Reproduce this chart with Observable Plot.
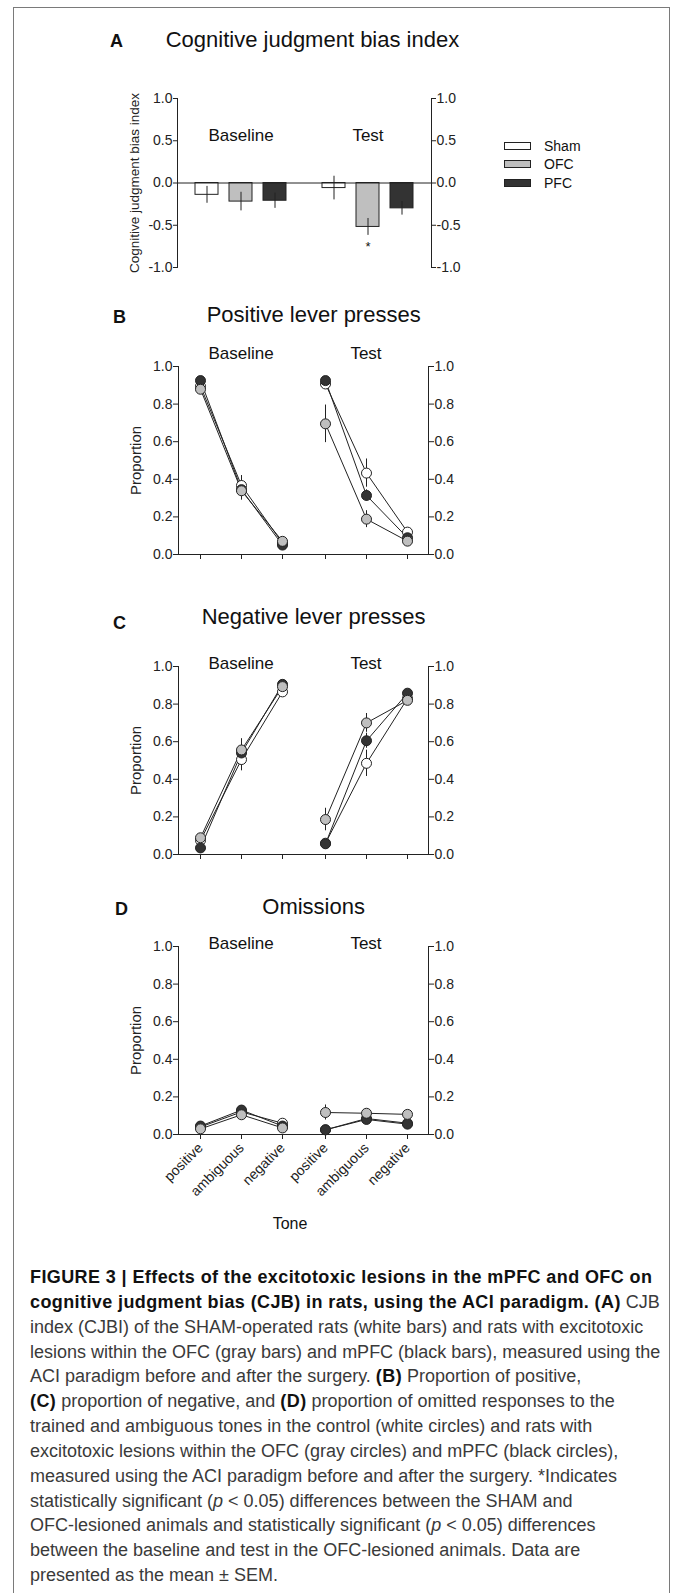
<!DOCTYPE html>
<html><head><meta charset="utf-8">
<script src="https://cdn.jsdelivr.net/npm/d3@7"></script>
<script src="https://cdn.jsdelivr.net/npm/@observablehq/plot@0.6"></script>
<style>
html,body{margin:0;padding:0;background:#fff;}
body{width:673px;height:1593px;position:relative;overflow:hidden;font-family:"Liberation Sans",Arial,Helvetica,sans-serif;color:#111;}
#frame{position:absolute;left:13px;top:7px;width:657px;height:1620px;border:1.5px solid #7a7a7a;box-sizing:border-box;}
.abs{position:absolute;white-space:nowrap;line-height:1;}
.panel{position:absolute;left:0;}
.sw{position:absolute;width:27px;height:8px;border:1px solid #222;box-sizing:border-box;}
#caption{position:absolute;left:30px;top:1265px;font-size:18px;line-height:24.85px;color:#3a3a3a;white-space:nowrap;}
#caption b{color:#111;letter-spacing:0.4px;}
</style>
</head><body>
<div id="frame"></div>
<div id="root"></div>
<div id="caption"></div>
<script>
// ---------- data ----------
const groups = ["Sham", "OFC", "PFC"];
const groupFill = ["#ffffff", "#bfbfbf", "#333333"];
const phases = ["Baseline", "Test"];
const tones = ["positive", "ambiguous", "negative"];

// Panel A: cognitive judgment bias index, rows = phases, columns = groups (Sham, OFC, PFC)
const cjbiMean = [[-0.14, -0.22, -0.21], [-0.06, -0.52, -0.30]];
const cjbiSem  = [[0.10, 0.11, 0.09], [0.14, 0.10, 0.08]];
const cjbiTicks = [-1, -0.5, 0, 0.5, 1];
const significance = [{phase: "Test", group: "OFC", label: "*"}];

// Panels B-D: rows = groups (Sham, OFC, PFC); columns = Baseline pos/amb/neg, Test pos/amb/neg
const positiveMean = [
  [0.895, 0.367, 0.060, 0.907, 0.433, 0.119],
  [0.879, 0.339, 0.070, 0.695, 0.188, 0.071],
  [0.925, 0.345, 0.050, 0.925, 0.314, 0.089]];
const positiveSem = [
  [0.02, 0.053, 0.01, 0.02, 0.075, 0.02],
  [0.02, 0.050, 0.01, 0.10, 0.045, 0.02],
  [0.02, 0.030, 0.01, 0.02, 0.030, 0.02]];
const negativeMean = [
  [0.075, 0.505, 0.865, 0.060, 0.485, 0.830],
  [0.089, 0.556, 0.893, 0.186, 0.700, 0.820],
  [0.035, 0.540, 0.905, 0.057, 0.605, 0.858]];
const negativeSem = [
  [0.02, 0.060, 0.02, 0.02, 0.070, 0.02],
  [0.02, 0.060, 0.02, 0.06, 0.050, 0.02],
  [0.01, 0.050, 0.01, 0.02, 0.040, 0.02]];
const omissionMean = [
  [0.040, 0.120, 0.060, 0.025, 0.085, 0.060],
  [0.030, 0.105, 0.035, 0.117, 0.113, 0.107],
  [0.045, 0.130, 0.045, 0.025, 0.080, 0.055]];
const omissionSem = [
  [0.01, 0.015, 0.01, 0.01, 0.015, 0.01],
  [0.01, 0.015, 0.01, 0.04, 0.015, 0.01],
  [0.01, 0.015, 0.01, 0.01, 0.015, 0.01]];
const proportionTicks = [0, 0.2, 0.4, 0.6, 0.8, 1.0];

// ---------- helpers ----------
const FONT = '"Liberation Sans", Arial, Helvetica, sans-serif';
const INK = "#222";
const fmt = d => d.toFixed(1);
const drawOrder = ["Sham", "PFC", "OFC"];
const root = document.getElementById("root");

function place(html, x, baseline, fs, extra = "") {
  const d = document.createElement("div");
  d.className = "abs";
  d.style.left = x + "px";
  d.style.top = (baseline - 0.85 * fs) + "px";
  d.style.fontSize = fs + "px";
  d.style.cssText += extra;
  d.innerHTML = html;
  root.appendChild(d);
  return d;
}
function addPlot(svg, top) {
  svg.classList.add("panel");
  svg.style.top = top + "px";
  root.appendChild(svg);
}
function tableFrom(meanArr, semArr) {
  const rows = [];
  for (const g of drawOrder) {
    const gi = groups.indexOf(g);
    phases.forEach((p, pi) => tones.forEach((t, ti) => {
      rows.push({group: g, phase: p, tone: t, mean: meanArr[gi][pi * 3 + ti], sem: semArr[gi][pi * 3 + ti]});
    }));
  }
  return rows;
}
function yAxes(ticks, label, labelSize, tickSize) {
  return [
    Plot.frame({anchor: "left", facet: "super", stroke: INK}),
    Plot.frame({anchor: "right", facet: "super", stroke: INK}),
    Plot.axisY({anchor: "left", ticks, tickFormat: fmt, tickSize, tickPadding: 1, fontSize: 14, label: null}),
    Plot.axisY({anchor: "right", ticks, tickFormat: fmt, tickSize, tickPadding: 1, fontSize: 14, label: null}),
    Plot.axisY({anchor: "left", ticks: [], tickSize: 0, label, labelAnchor: "center", labelArrow: "none", labelOffset: 48, fontSize: labelSize})
  ];
}

// ---------- Panel A ----------
place("A", 110, 47.3, 18, "font-weight:bold;");
place("Cognitive judgment bias index", 165.7, 47.3, 22);
const rowsA = [];
phases.forEach((p, pi) => groups.forEach((g, gi) => rowsA.push({phase: p, group: g, mean: cjbiMean[pi][gi], sem: cjbiSem[pi][gi]})));
const sigRows = significance.map(s => {
  const r = rowsA.find(d => d.phase === s.phase && d.group === s.group);
  return {...s, y: r.mean - r.sem};
});
addPlot(Plot.plot({
  width: 673, height: 30 + 169 + 10,
  marginTop: 30, marginBottom: 10, marginLeft: 177, marginRight: 242,
  style: {background: "transparent", fontFamily: FONT, fontSize: "14px", color: INK, overflow: "visible"},
  fx: {domain: phases, padding: 0, axis: null},
  x: {type: "band", domain: groups, paddingInner: 0.32, paddingOuter: 0.5, axis: null},
  y: {domain: [-1, 1]},
  color: {domain: groups, range: groupFill},
  marks: [
    Plot.barY(rowsA, {fx: "phase", x: "group", y: "mean", fill: "group", stroke: INK, strokeWidth: 1}),
    Plot.ruleX(rowsA, {fx: "phase", x: "group", y1: d => d.mean - d.sem, y2: d => d.mean + d.sem, stroke: INK}),
    Plot.ruleY([0], {stroke: INK}),
    ...yAxes(cjbiTicks, "Cognitive judgment bias index", 13.5, 4),
    Plot.text(phases, {fx: d => d, text: d => d, frameAnchor: "top", lineAnchor: "bottom", dy: 42.7, fontSize: 17, fill: "#111"}),
    Plot.text(sigRows, {fx: "phase", x: "group", y: "y", text: "label", lineAnchor: "top", dy: 6, fontSize: 13, fill: "#111"})
  ]
}), 68);

// legend
groups.forEach((g, i) => {
  const cy = [146, 164.3, 183][i];
  const s = document.createElement("div");
  s.className = "sw";
  s.style.left = "504px";
  s.style.top = (cy - 4) + "px";
  s.style.background = groupFill[i];
  root.appendChild(s);
  place(g, 544, cy + 5, 14);
});

// ---------- Panels B-D ----------
function linePanel({letter, letterX, letterBase, title, titleX, titleBase, meanArr, semArr, top, phaseDy, tickLabels, marginBottom}) {
  place(letter, letterX, letterBase, 18, "font-weight:bold;");
  place(title, titleX, titleBase, 22);
  const rows = tableFrom(meanArr, semArr);
  addPlot(Plot.plot({
    width: 673, height: 30 + 188 + marginBottom,
    marginTop: 30, marginBottom, marginLeft: 177, marginRight: 245,
    style: {background: "transparent", fontFamily: FONT, fontSize: "14px", color: INK, overflow: "visible"},
    fx: {domain: phases, padding: 0, axis: null},
    x: {type: "point", domain: tones, padding: 0.5},
    y: {domain: [0, 1]},
    color: {domain: groups, range: groupFill},
    marks: [
      Plot.ruleY([0], {stroke: INK}),
      ...yAxes(proportionTicks, "Proportion", 15, 5),
      tickLabels
        ? Plot.axisX({anchor: "bottom", tickSize: 5, tickPadding: 6, tickRotate: -45, fontSize: 14, label: null})
        : Plot.axisX({anchor: "bottom", tickSize: 5, tickFormat: () => "", label: null}),
      Plot.ruleX(rows, {fx: "phase", x: "tone", y1: d => d.mean - d.sem, y2: d => d.mean + d.sem, stroke: INK}),
      Plot.line(rows, {fx: "phase", x: "tone", y: "mean", z: "group", stroke: INK, strokeWidth: 1}),
      Plot.dot(rows, {fx: "phase", x: "tone", y: "mean", fill: "group", stroke: INK, strokeWidth: 1, r: 5}),
      Plot.text(phases, {fx: d => d, text: d => d, frameAnchor: "top", lineAnchor: "bottom", dy: phaseDy, fontSize: 17, fill: "#111"})
    ]
  }), top);
}

linePanel({letter: "B", letterX: 113, letterBase: 323, title: "Positive lever presses", titleX: 206.7, titleBase: 322.3,
  meanArr: positiveMean, semArr: positiveSem, top: 336, phaseDy: -7.7, tickLabels: false, marginBottom: 15});
linePanel({letter: "C", letterX: 113, letterBase: 629, title: "Negative lever presses", titleX: 201.7, titleBase: 624.3,
  meanArr: negativeMean, semArr: negativeSem, top: 636, phaseDy: 2.3, tickLabels: false, marginBottom: 15});
linePanel({letter: "D", letterX: 115, letterBase: 915, title: "Omissions", titleX: 262.3, titleBase: 914.5,
  meanArr: omissionMean, semArr: omissionSem, top: 916, phaseDy: 2.5, tickLabels: true, marginBottom: 80});

place("Tone", 290, 1230, 16, "transform:translateX(-50%);");

// ---------- caption ----------
const captionLines = [
  "<b>FIGURE 3 | Effects of the excitotoxic lesions in the mPFC and OFC on</b>",
  "<b>cognitive judgment bias (CJB) in rats, using the ACI paradigm. (A)</b> CJB",
  "index (CJBI) of the SHAM-operated rats (white bars) and rats with excitotoxic",
  "lesions within the OFC (gray bars) and mPFC (black bars), measured using the",
  "ACI paradigm before and after the surgery. <b>(B)</b> Proportion of positive,",
  "<b>(C)</b> proportion of negative, and <b>(D)</b> proportion of omitted responses to the",
  "trained and ambiguous tones in the control (white circles) and rats with",
  "excitotoxic lesions within the OFC (gray circles) and mPFC (black circles),",
  "measured using the ACI paradigm before and after the surgery. *Indicates",
  "statistically significant (<i>p</i> &lt; 0.05) differences between the SHAM and",
  "OFC-lesioned animals and statistically significant (<i>p</i> &lt; 0.05) differences",
  "between the baseline and test in the OFC-lesioned animals. Data are",
  "presented as the mean ± SEM."
];
document.getElementById("caption").innerHTML = captionLines.join("<br>");
</script>
</body></html>
